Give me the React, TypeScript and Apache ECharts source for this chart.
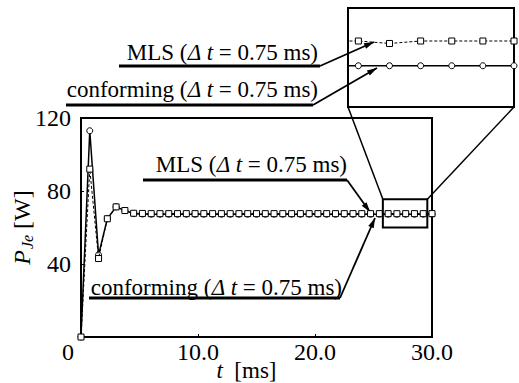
import React, { useEffect, useRef } from "react";
import * as echarts from "echarts";

// Time steps (ms), Δt = 0.75 ms
const times = [
  0, 0.75, 1.5, 2.25, 3, 3.75, 4.5, 5.25, 6, 6.75, 7.5, 8.25, 9, 9.75, 10.5,
  11.25, 12, 12.75, 13.5, 14.25, 15, 15.75, 16.5, 17.25, 18, 18.75, 19.5,
  20.25, 21, 21.75, 22.5, 23.25, 24, 24.75, 25.5, 26.25, 27, 27.75, 28.5,
  29.25, 30,
];

// Joule power P_Je [W]
const mlsPower = [
  0, 92, 43, 64.8, 71.3, 69.3, 67.8, 67.7, 67.6, 67.6, 67.6, 67.6, 67.6, 67.6,
  67.6, 67.6, 67.6, 67.6, 67.6, 67.6, 67.6, 67.6, 67.6, 67.6, 67.6, 67.6, 67.6,
  67.6, 67.6, 67.6, 67.6, 67.6, 67.6, 67.6, 67.6, 67.6, 67.57, 67.6, 67.6,
  67.6, 67.6,
];
const conformingPower = [
  0, 113, 45, 64.8, 71.3, 69.3, 67.6, 67.4, 67.3, 67.3, 67.3, 67.3, 67.3, 67.3,
  67.3, 67.3, 67.3, 67.3, 67.3, 67.3, 67.3, 67.3, 67.3, 67.3, 67.3, 67.3, 67.3,
  67.3, 67.3, 67.3, 67.3, 67.3, 67.3, 67.3, 67.3, 67.3, 67.3, 67.3, 67.3,
  67.3, 67.3,
];

const xTicks = [0, 10, 20, 30];
const yTicks = [0, 40, 80, 120];

// Magnified window shown in the inset
const zoomWindowT = [25.8, 29.6];
const zoomWindowP = [60, 75.5];
const insetT = [26, 30];
const insetP = [66.8, 68.0];

const FONT = "Liberation Serif";
const TICK_SIZE = 24;
const NAME_SIZE = 23;
const NOTE_SIZE = 23;

const pairs = (ys: number[]) => times.map((t, i) => [t, ys[i]]);

const mlsSeries = (xi: number) => ({
  type: "line",
  xAxisIndex: xi,
  yAxisIndex: xi,
  data: pairs(mlsPower),
  symbol: "rect",
  symbolSize: 6,
  z: 4,
  itemStyle: { color: "#fff", borderColor: "#000", borderWidth: 1 },
  lineStyle: { color: "#000", width: 1, type: [3, 2] },
  silent: true,
});

const conformingSeries = (xi: number) => ({
  type: "line",
  xAxisIndex: xi,
  yAxisIndex: xi,
  data: pairs(conformingPower),
  symbol: "circle",
  symbolSize: 6,
  z: 3,
  itemStyle: { color: "#fff", borderColor: "#000", borderWidth: 1 },
  lineStyle: { color: "#000", width: 1.5 },
  silent: true,
});

const labelRich = {
  a: { fontFamily: FONT, fontSize: NOTE_SIZE, color: "#000" },
  b: { fontFamily: FONT, fontSize: NOTE_SIZE, fontStyle: "italic", color: "#000" },
};

function labelText(name: string) {
  return `{a|${name} (}{b|Δ t}{a| = 0.75 ms)}`;
}

function arrowHead(sx: number, sy: number, tx: number, ty: number) {
  const dx = tx - sx;
  const dy = ty - sy;
  const len = Math.hypot(dx, dy);
  const ux = dx / len;
  const uy = dy / len;
  const L = 10;
  const W = 3;
  return {
    type: "polygon",
    shape: {
      points: [
        [tx, ty],
        [tx - ux * L - uy * W, ty - uy * L + ux * W],
        [tx - ux * L + uy * W, ty - uy * L - ux * W],
      ],
    },
    style: { fill: "#000" },
    silent: true,
  };
}

// Caption with an underline and a leader arrow
function callout(
  name: string,
  textRight: number,
  textMidY: number,
  lineX0: number,
  lineX1: number,
  lineY: number,
  tipX: number,
  tipY: number
) {
  return [
    {
      type: "text",
      x: textRight,
      y: textMidY,
      style: {
        text: labelText(name),
        rich: labelRich,
        align: "right",
        verticalAlign: "middle",
        fill: "#000",
      },
      silent: true,
    },
    {
      type: "polyline",
      shape: { points: [[lineX0, lineY], [lineX1, lineY]] },
      style: { stroke: "#000", lineWidth: 3, fill: null },
      silent: true,
    },
    {
      type: "polyline",
      shape: { points: [[lineX1, lineY], [tipX, tipY]] },
      style: { stroke: "#000", lineWidth: 1.8, fill: null },
      silent: true,
    },
    arrowHead(lineX1, lineY, tipX, tipY),
  ];
}

export default function App() {
  const ref = useRef<HTMLDivElement>(null);

  useEffect(() => {
    if (!ref.current) return;
    const chart = echarts.init(ref.current, undefined, { renderer: "svg" });

    chart.setOption({
      animation: false,
      backgroundColor: "#fff",
      grid: [
        {
          left: 81,
          top: 118,
          width: 351,
          height: 219,
          show: true,
          borderColor: "#000",
          borderWidth: 2,
          backgroundColor: "transparent",
          containLabel: false,
          outerBoundsMode: "none",
        },
        {
          left: 348,
          top: 8,
          width: 166,
          height: 99,
          show: true,
          borderColor: "#000",
          borderWidth: 2,
          backgroundColor: "#fff",
          containLabel: false,
          outerBoundsMode: "none",
        },
      ],
      xAxis: [
        {
          type: "value",
          gridIndex: 0,
          min: xTicks[0],
          max: xTicks[xTicks.length - 1],
          interval: 10,
          splitLine: { show: false },
          axisLine: { lineStyle: { color: "#000", width: 2 } },
          axisTick: { inside: true, length: 3, lineStyle: { color: "#000" } },
          axisLabel: {
            margin: 3,
            color: "#000",
            fontFamily: FONT,
            fontSize: TICK_SIZE,
            formatter: (v: number) => (v === 0 ? "{z|0}" : v.toFixed(1)),
            rich: {
              z: {
                fontFamily: FONT,
                fontSize: TICK_SIZE,
                color: "#000",
                padding: [0, 26, 0, 0],
              },
            },
          },
          name: "{i|t}{a|  [ms]}",
          nameLocation: "middle",
          nameGap: 22,
          nameMoveOverlap: false,
          nameTextStyle: {
            padding: [0, 20, 0, 0],
            rich: {
              i: { fontFamily: FONT, fontSize: NAME_SIZE, fontStyle: "italic", color: "#000" },
              a: { fontFamily: FONT, fontSize: NAME_SIZE, color: "#000" },
            },
          },
        },
        {
          type: "value",
          gridIndex: 1,
          min: insetT[0],
          max: insetT[1],
          show: false,
          splitLine: { show: false },
        },
      ],
      yAxis: [
        {
          type: "value",
          gridIndex: 0,
          min: yTicks[0],
          max: yTicks[yTicks.length - 1],
          interval: 40,
          splitLine: { show: false },
          axisLine: { lineStyle: { color: "#000", width: 2 } },
          axisTick: { inside: true, length: 3, lineStyle: { color: "#000" } },
          axisLabel: {
            margin: 10,
            color: "#000",
            fontFamily: FONT,
            fontSize: TICK_SIZE,
            formatter: (v: number) => (v === 0 ? "" : String(v)),
          },
          name: "{i|P}{s|Je}{a| [W]}",
          nameLocation: "middle",
          nameGap: 46,
          nameRotate: 90,
          nameMoveOverlap: false,
          nameTextStyle: {
            rich: {
              i: { fontFamily: FONT, fontSize: TICK_SIZE, fontStyle: "italic", color: "#000" },
              s: {
                fontFamily: FONT,
                fontSize: 16,
                fontStyle: "italic",
                color: "#000",
                padding: [10, 0, 0, 1],
              },
              a: { fontFamily: FONT, fontSize: TICK_SIZE, color: "#000" },
            },
          },
        },
        {
          type: "value",
          gridIndex: 1,
          min: insetP[0],
          max: insetP[1],
          show: false,
          splitLine: { show: false },
        },
      ],
      series: [
        conformingSeries(0),
        mlsSeries(0),
        conformingSeries(1),
        mlsSeries(1),
      ],
    });

    // Window rectangle and connectors to the inset, placed via the axes
    const toMain = (p: number[]) =>
      chart.convertToPixel({ xAxisIndex: 0, yAxisIndex: 0 }, p) as number[];
    const toInset = (p: number[]) =>
      chart.convertToPixel({ xAxisIndex: 1, yAxisIndex: 1 }, p) as number[];

    const wTL = toMain([zoomWindowT[0], zoomWindowP[1]]);
    const wBR = toMain([zoomWindowT[1], zoomWindowP[0]]);
    const iBL = toInset([insetT[0], insetP[0]]);
    const iBR = toInset([insetT[1], insetP[0]]);

    const graphic: any[] = [
      {
        type: "rect",
        shape: { x: wTL[0], y: wTL[1], width: wBR[0] - wTL[0], height: wBR[1] - wTL[1] },
        style: { fill: null, stroke: "#000", lineWidth: 2 },
        z: 10,
        silent: true,
      },
      {
        type: "line",
        shape: { x1: iBL[0], y1: iBL[1], x2: wTL[0], y2: wTL[1] },
        style: { stroke: "#000", lineWidth: 1.5 },
        silent: true,
      },
      {
        type: "line",
        shape: { x1: iBR[0], y1: iBR[1], x2: wBR[0], y2: wTL[1] },
        style: { stroke: "#000", lineWidth: 1.5 },
        silent: true,
      },
      ...callout("MLS", 318, 52, 119, 320, 66, 374, 42),
      ...callout("conforming", 318, 89, 66, 313, 105, 377, 68),
      ...callout("MLS", 347, 164, 143, 347, 180, 370, 212),
      ...callout("conforming", 342, 287, 89, 340, 298, 375, 218),
    ];

    chart.setOption({ graphic });

    return () => chart.dispose();
  }, []);

  return (
    <div
      ref={ref}
      style={{ position: "fixed", left: 0, top: 0, width: 519, height: 383 }}
    />
  );
}
